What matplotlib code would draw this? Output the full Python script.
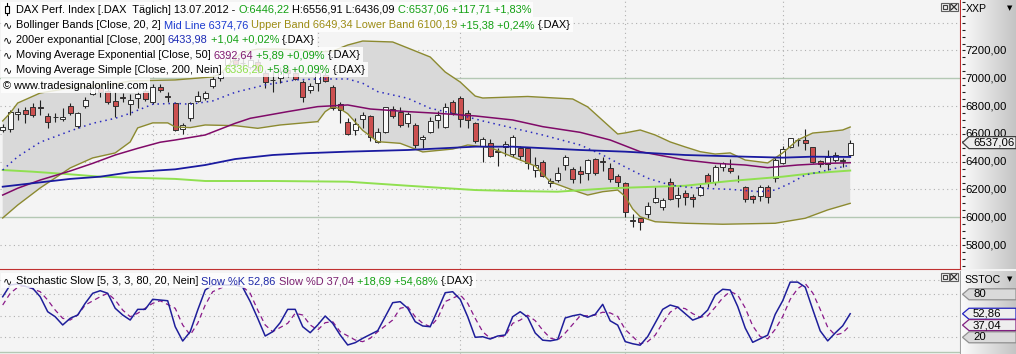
import numpy as np
import matplotlib
matplotlib.use("Agg")
import matplotlib.pyplot as plt
from matplotlib.patches import Rectangle, Polygon
from matplotlib.colors import LinearSegmentedColormap
from matplotlib.transforms import blended_transform_factory

# ---- DAX daily candles ----
opens = [6627, 6635, 6745, 6772, 6796, 6792, 6731, 6720, 6707, 6803,
         6659, 6803, 6885, 6932, 6908, 6836, 6862, 6813, 6860, 6908,
         6828, 6940, 6870, 6825, 6635, 6712, 6839, 6856, 6946, 7000,
         7096, 7130, 7112, 7083, 7120, 7036, 6990, 7000, 7060, 7036,
         6971, 6916, 6964, 7024, 6935, 6813, 6688, 6628, 6705, 6729,
         6544, 6616, 6777, 6760, 6681, 6664, 6561, 6616, 6700, 6652,
         6832, 6856, 6748, 6676, 6513, 6537, 6474, 6508, 6455, 6496,
         6496, 6340, 6400, 6245, 6268, 6376, 6345, 6335, 6316, 6417,
         6402, 6352, 6297, 6249, 5978, 5993, 6022, 6112, 6076, 6253,
         6137, 6177, 6144, 6160, 6304, 6256, 6364, 6352, 6270, 6220,
         6153, 6153, 6220, 6281, 6393, 6504, 6558, 6556, 6504, 6407,
         6383, 6412, 6410, 6446.22]
highs = [6671, 6773, 6784, 6796, 6820, 6844, 6748, 6748, 6784, 6820,
         6760, 6868, 6964, 6950, 6928, 6904, 6892, 6885, 6908, 6928,
         6957, 6957, 6904, 6832, 6676, 6832, 6908, 6912, 7024, 7060,
         7160, 7160, 7150, 7150, 7140, 7060, 7060, 7080, 7090, 7070,
         6988, 6964, 7060, 7045, 6950, 6832, 6712, 6712, 6760, 6736,
         6640, 6796, 6800, 6796, 6760, 6676, 6592, 6724, 6767, 6820,
         6844, 6873, 6772, 6688, 6575, 6561, 6496, 6551, 6592, 6513,
         6508, 6436, 6412, 6280, 6360, 6448, 6360, 6369, 6417, 6424,
         6436, 6393, 6311, 6256, 6024, 5998, 6112, 6220, 6140, 6280,
         6216, 6196, 6168, 6240, 6316, 6376, 6400, 6417, 6304, 6225,
         6160, 6232, 6232, 6424, 6513, 6568, 6568, 6633, 6508, 6412,
         6484, 6472, 6424, 6556.91]
lows = [6613, 6613, 6700, 6676, 6724, 6736, 6640, 6688, 6693, 6736,
        6640, 6784, 6880, 6868, 6813, 6724, 6832, 6736, 6784, 6837,
        6813, 6904, 6832, 6621, 6599, 6693, 6832, 6846, 6928, 6980,
        7080, 7080, 7080, 7070, 7040, 6928, 6904, 6964, 7010, 6988,
        6832, 6894, 6908, 6972, 6772, 6676, 6592, 6592, 6640, 6551,
        6537, 6606, 6712, 6652, 6652, 6496, 6496, 6606, 6640, 6640,
        6736, 6652, 6640, 6532, 6400, 6431, 6369, 6441, 6431, 6412,
        6345, 6290, 6290, 6220, 6256, 6340, 6244, 6244, 6268, 6304,
        6335, 6256, 6220, 6000, 5932, 5909, 5993, 6100, 6052, 6124,
        6076, 6088, 6076, 6152, 6216, 6232, 6330, 6316, 6256, 6112,
        6100, 6120, 6100, 6256, 6384, 6496, 6510, 6484, 6393, 6364,
        6340, 6400, 6364, 6436.09]
closes = [6651, 6760, 6755, 6743, 6736, 6787, 6688, 6722, 6724, 6748,
          6748, 6844, 6940, 6904, 6832, 6803, 6858, 6844, 6885, 6849,
          6940, 6916, 6866, 6628, 6664, 6825, 6873, 6892, 6994, 7045,
          7143, 7100, 7108, 7132, 7060, 6976, 6986, 7050, 7040, 6995,
          6868, 6946, 7036, 6981, 6784, 6772, 6599, 6671, 6736, 6575,
          6616, 6791, 6729, 6664, 6743, 6520, 6580, 6695, 6736, 6791,
          6748, 6705, 6700, 6551, 6561, 6441, 6470, 6527, 6575, 6441,
          6393, 6376, 6297, 6263, 6321, 6431, 6273, 6311, 6412, 6316,
          6398, 6273, 6256, 6040, 5974, 5964, 6083, 6137, 6124, 6133,
          6160, 6144, 6129, 6220, 6244, 6360, 6388, 6333, 6266, 6129,
          6129, 6220, 6144, 6412, 6489, 6568, 6554, 6532, 6400, 6383,
          6436, 6448, 6405, 6537.06]

# ---- indicator lines, read at selected bars ----
upper_i = [0, 1, 2, 5, 9, 15, 17, 23, 28, 29, 30, 31, 32, 34, 37, 40, 42, 44, 46, 48,
           52, 54, 57, 59, 61, 63, 64, 70, 76, 78, 82, 83, 85, 87, 89, 91, 93, 95, 97,
           99, 102, 104, 106, 108, 110, 112, 113]
upper_v = [6693, 6750, 6822, 6894, 6930, 6959, 6981, 6988, 7010, 7031, 7088, 7146, 7189,
           7210, 7210, 7203, 7189, 7196, 7239, 7268, 7261, 7218, 7153, 7045, 6973, 6872,
           6858, 6869, 6851, 6794, 6599, 6607, 6628, 6592, 6542, 6506, 6472, 6455, 6463,
           6412, 6391, 6463, 6556, 6606, 6616, 6628, 6649.34]
lower_i = [0, 2, 5, 9, 12, 15, 17, 18, 20, 22, 23, 25, 27, 31, 34, 37, 42, 43, 44, 45,
           46, 48, 50, 53, 56, 60, 62, 65, 68, 71, 73, 76, 78, 80, 82, 83, 84, 85, 87,
           91, 96, 103, 107, 110, 113]
lower_v = [5995, 6088, 6211, 6355, 6427, 6463, 6542, 6643, 6679, 6679, 6650, 6645, 6664,
           6659, 6640, 6664, 6688, 6760, 6796, 6780, 6745, 6625, 6544, 6532, 6470, 6491,
           6520, 6502, 6434, 6369, 6256, 6196, 6160, 6184, 6196, 6150, 6060, 6004, 5968,
           5957, 5950, 5957, 5993, 6053, 6100.19]
mid_i = [0, 2, 5, 9, 12, 15, 17, 20, 23, 25, 28, 31, 35, 39, 42, 46, 48, 50, 54, 57,
         61, 64, 68, 72, 77, 80, 83, 86, 89, 91, 93, 97, 101, 103, 105, 107, 111, 113]
mid_v = [6340, 6436, 6540, 6621, 6676, 6712, 6748, 6813, 6820, 6813, 6837, 6899, 6952,
         6988, 6995, 6995, 6964, 6904, 6856, 6784, 6736, 6693, 6642, 6592, 6520, 6448,
         6362, 6281, 6232, 6218, 6209, 6201, 6184, 6196, 6245, 6304, 6352, 6374.76]
ema50_i = [0, 2, 5, 9, 12, 15, 18, 21, 23, 27, 31, 33, 38, 42, 46, 49, 54, 58, 63, 68,
           72, 77, 81, 85, 91, 95, 99, 102, 106, 110, 113]
ema50_v = [6160, 6209, 6268, 6333, 6388, 6448, 6496, 6540, 6556, 6592, 6676, 6712, 6760,
           6796, 6808, 6779, 6760, 6748, 6729, 6700, 6652, 6611, 6556, 6472, 6412, 6388,
           6376, 6357, 6376, 6388, 6392.64]
ema200_i = [0, 4, 9, 13, 17, 23, 27, 31, 36, 40, 46, 54, 63, 68, 77, 83, 91, 99, 104, 108, 113]
ema200_v = [6220, 6245, 6276, 6292, 6324, 6345, 6376, 6419, 6448, 6460, 6472, 6484, 6508,
            6508, 6484, 6472, 6448, 6436, 6429, 6436, 6433.98]
sma200_i = [0, 4, 9, 13, 17, 23, 27, 36, 46, 54, 63, 68, 74, 81, 91, 97, 104, 108, 113]
sma200_v = [6340, 6328, 6309, 6292, 6285, 6276, 6261, 6261, 6256, 6227, 6196, 6189, 6184,
            6209, 6227, 6261, 6292, 6317, 6336.20]

# ---- stochastic slow ----
k_i = [0, 1, 2, 3, 4, 5, 6, 7, 8, 9, 10, 11, 12, 13, 14, 15, 16, 17, 18, 19, 20, 21, 22,
       23, 24, 25, 26, 27, 28, 29, 31, 32, 33, 34, 35, 36, 37, 38, 39, 40, 41, 42, 43, 44,
       45, 46, 47, 48, 50, 51, 52, 53, 54, 55, 56, 57, 58, 59, 60, 61, 62, 63, 64, 65, 66,
       67, 68, 69, 70, 71, 72, 73, 74, 75, 76, 77, 78, 79, 80, 81, 82, 83, 84, 85, 86, 87,
       88, 89, 90, 91, 92, 93, 94, 95, 96, 97, 98, 99, 100, 101, 102, 103, 104, 105, 106,
       107, 108, 109, 110, 111, 112, 113]
k_v = [76.6, 93, 94.4, 91, 88.4, 76.6, 55.7, 48.7, 37.2, 46.5, 51.1, 67.4, 81.4, 85, 81.4,
       60.5, 51.1, 44.1, 59, 59, 73, 72, 71, 34.8, 14.8, 27.8, 58, 86, 93, 93, 93, 89.8,
       69.9, 46.5, 21.8, 27.8, 40.4, 59, 59, 34.8, 26.4, 37.2, 49.7, 39.5, 23.2, 9.3, 12.5,
       18.6, 29.2, 48.7, 68.3, 69.7, 60.5, 41.8, 35.8, 34.8, 58, 82.2, 83.6, 73, 48.7, 20,
       20.8, 17.6, 21.8, 23.2, 48.7, 55.7, 48, 26, 16, 15, 17, 47, 50, 52, 48, 52, 66, 43,
       37, 14, 11, 9, 21, 40, 59, 65, 62, 53, 44, 48, 58, 79, 87, 86, 63, 33, 13, 18, 23,
       52, 71, 97, 97, 90, 59, 29, 15, 26, 36, 52.86]
d_i = [0, 1, 2, 3, 5, 6, 7, 8, 9, 10, 11, 13, 14, 15, 16, 17, 18, 19, 20, 21, 23, 24, 25,
       26, 27, 28, 30, 31, 32, 33, 34, 35, 36, 38, 39, 40, 41, 42, 43, 44, 45, 47, 48, 49,
       50, 52, 53, 54, 55, 56, 57, 58, 59, 61, 62, 63, 64, 65, 66, 67, 68, 69, 70, 71, 72,
       73, 74, 75, 76, 77, 78, 79, 80, 81, 82, 83, 84, 85, 86, 87, 88, 89, 90, 91, 92, 93,
       94, 95, 96, 97, 98, 99, 100, 101, 102, 103, 104, 105, 106, 107, 108, 109, 110, 111,
       112, 113]
d_v = [65, 81.4, 89.8, 91.6, 83.6, 72, 58, 46.5, 44.1, 51.1, 65, 76.6, 81.4, 72, 58, 48.7,
       53.5, 60.5, 67.4, 71, 60.5, 37.2, 23.2, 39.5, 65, 83.6, 93, 94.4, 90.6, 81.4, 58,
       37.2, 27.8, 39.5, 53.5, 51.1, 37.2, 30.2, 40.4, 41.8, 27.8, 16.2, 13.9, 18.6, 27.8,
       44.1, 60.5, 62.8, 48.7, 39.5, 34.8, 46.5, 69.9, 79.3, 67.4, 46.5, 27.8, 18.6, 20.8,
       21.8, 39.5, 44, 50.8, 43.2, 30, 19, 16, 26, 38, 50, 50, 51, 55, 54, 49, 31, 21, 11,
       14, 23, 40, 55, 62, 60, 53, 48, 50, 62, 75, 84, 79, 61, 36, 21, 18, 31, 49, 73, 88,
       95, 82, 59, 34, 23, 26, 37.04]

price_grid_dotted = [5800, 6200, 6400, 6600, 6800, 7200, 7400]
price_grid_solid = [6000, 7000]
price_labels = [5800, 6000, 6200, 6400, 6600, 6800, 7000, 7200]
stoch_grid_dotted = [20, 50, 80, 100]
month_bars = [20, 42, 61, 83, 104]

W, H = 1016, 354
MAIN_BOT = 269
LOW_TOP = 271
PLOT_R = 960
PRICE_LIM = (5628, 7563)
STOCH_LIM = (-3.3, 112.5)
XLIM = (-0.36, 127.64)
FONT = ["Liberation Sans", "DejaVu Sans"]
FS = 7.9
BG = "#f4f4f4"
GREEN = "#12a012"

fig = plt.figure(figsize=(W / 100, H / 100), dpi=100)
fig.patch.set_facecolor(BG)

ax = fig.add_axes([0, 1 - MAIN_BOT / H, PLOT_R / W, MAIN_BOT / H])
ax2 = fig.add_axes([0, 0, PLOT_R / W, (H - LOW_TOP) / H])
for a in (ax, ax2):
    a.set_facecolor(BG)
    a.set_xlim(XLIM)
    a.set_xticks([])
    a.set_yticks([])
    for s in a.spines.values():
        s.set_visible(False)
ax.set_ylim(PRICE_LIM)
ax2.set_ylim(STOCH_LIM)
ax.spines["right"].set_visible(True)
ax.spines["bottom"].set_visible(True)
ax.spines["right"].set_color("#c03030")
ax.spines["bottom"].set_color("#c03030")
ax2.spines["right"].set_visible(True)
ax2.spines["right"].set_color("#a0a0a0")

dot = dict(color="#b0b0b0", lw=0.8, ls=(0, (1, 3)), zorder=1)
for v in price_grid_dotted:
    ax.axhline(v, **dot)
for v in price_grid_solid:
    ax.axhline(v, color="#b4c8b4", lw=1, zorder=1)
for v in stoch_grid_dotted:
    ax2.axhline(v, **dot)
ax2.axhline(0, color="#b4c8b4", lw=1, zorder=1)
for b in month_bars:
    ax.axvline(b, **dot)
    ax2.axvline(b, **dot)

# bollinger fill
band = np.column_stack([upper_i + lower_i[::-1], upper_v + lower_v[::-1]])
ax.add_patch(Polygon(band, closed=True, fc="#d9d9d9", ec="none", zorder=2))

# candles
idx = np.arange(len(closes))
o = np.array(opens); h = np.array(highs); l = np.array(lows); c = np.array(closes)
body_lo = np.minimum(o, c)
body_h = np.maximum(np.abs(c - o), 3)
cols = np.where(c >= o, "#fafafa", "#cc5050")
ax.vlines(idx, l, h, color="#202020", lw=0.8, zorder=4)
ax.bar(idx, body_h, bottom=body_lo, width=0.62, color=cols, edgecolor="#303030",
       lw=0.7, zorder=5)

ax.plot(upper_i, upper_v, color="#8c8a30", lw=1, zorder=6)
ax.plot(lower_i, lower_v, color="#8c8a30", lw=1, zorder=6)
ax.plot(mid_i, mid_v, color="#2a2ac0", lw=1.1, ls=(0, (1, 2.6)), zorder=7)
ax.plot(sma200_i, sma200_v, color="#90e050", lw=1.4, zorder=6)
ax.plot(ema50_i, ema50_v, color="#800a68", lw=1.1, zorder=7)
ax.plot(ema200_i, ema200_v, color="#1a1aa0", lw=1.3, zorder=7)

ax2.plot(d_i, d_v, color="#8a1a8a", lw=0.9, ls=(0, (4, 3)), zorder=5)
ax2.plot(k_i, k_v, color="#1e1e9a", lw=1.1, zorder=6)

# right scale areas
grad = LinearSegmentedColormap.from_list("g", ["#fbfbfb", "#c4c4c4"])
axr = fig.add_axes([961 / W, 1 - MAIN_BOT / H, 55 / W, MAIN_BOT / H])
axr2 = fig.add_axes([961 / W, 0, 55 / W, (H - LOW_TOP) / H])
for a, lim in ((axr, PRICE_LIM), (axr2, STOCH_LIM)):
    a.imshow(np.linspace(0, 1, 64)[None, :], cmap=grad, aspect="auto",
             extent=(0, 55, lim[0], lim[1]))
    a.set_xlim(0, 55)
    a.set_ylim(lim)
    a.axis("off")

minor = np.arange(5650, 7551, 50)
axr.hlines(minor, 0.5, 3.5, color="#202020", lw=0.8)
for v in price_labels:
    axr.text(4.5, v, f"{v},00", fontsize=8.2, family=FONT, va="center", ha="left")

tr1 = blended_transform_factory(axr.transData, axr.transAxes)
tr2 = blended_transform_factory(axr2.transData, axr2.transAxes)
axr.text(5, 1 - 9 / MAIN_BOT, "XXP", transform=tr1, fontsize=7.6,
         family=FONT, va="center", ha="left")
axr.text(49, 1 - 8 / MAIN_BOT, "▼", transform=tr1, fontsize=5,
         family=["DejaVu Sans"], va="center", ha="center")
axr2.text(3, 1 - 9 / (H - LOW_TOP), "SSTOC", transform=tr2, fontsize=7.6,
          family=FONT, va="center", ha="left")
axr2.text(49, 1 - 8 / (H - LOW_TOP), "▼", transform=tr2, fontsize=5,
          family=["DejaVu Sans"], va="center", ha="center")


def marker(a, v, half, text, fc, ec):
    pts = [(1.5, v), (8, v + half), (55, v + half), (55, v - half), (8, v - half)]
    a.add_patch(Polygon(pts, closed=True, fc=fc, ec=ec, lw=0.9, zorder=5))
    a.text(12, v, text, fontsize=8.2, family=FONT, va="center", ha="left", zorder=6)


marker(axr, closes[-1], 6 * 7.194, "6537,06", "#ececec", "#404040")
px_low = (STOCH_LIM[1] - STOCH_LIM[0]) / (H - LOW_TOP)
marker(axr2, 80, 5.5 * px_low, "80", "#dadada", "#909090")
marker(axr2, 20, 5.5 * px_low, "20", "#dadada", "#909090")
marker(axr2, k_v[-1], 5.5 * px_low, "52,86", "#eeeeee", "#2020c0")
marker(axr2, d_v[-1], 5.5 * px_low, "37,04", "#eeeeee", "#802080")

# overlay in pixel coordinates for legends and icons
ov = fig.add_axes([0, 0, 1, 1], zorder=10)
ov.set_xlim(0, W)
ov.set_ylim(H, 0)
ov.axis("off")
renderer = fig.canvas.get_renderer()


def text_w(s):
    t = ov.text(0, 0, s, fontsize=FS, family=FONT)
    w = t.get_window_extent(renderer).width
    t.remove()
    return w


SP = text_w("a a") - text_w("aa")


def row(x, y, parts, box_x0=1):
    cur = x
    for s, col in parts:
        n = len(s) - len(s.lstrip(" "))
        cur += n * SP
        s = s.strip(" ")
        t = ov.text(cur, y + 4, s, color=col, fontsize=FS, family=FONT,
                    va="baseline", ha="left", zorder=12)
        cur += t.get_window_extent(renderer).width
    ov.add_patch(Rectangle((box_x0, y - 7.5), cur - box_x0 + 2, 15, fc="white",
                           ec="none", alpha=0.82, zorder=11))


def wave(y):
    ov.text(3, y + 4, "∿", fontsize=8, family=["DejaVu Sans"], va="baseline",
            ha="left", zorder=12)


row(16, 9, [("DAX Perf. Index [.DAX  Täglich] 13.07.2012 -", "black"),
            (" O:6446,22", GREEN), (" H:6556,91 L:6436,09", "black"),
            (" C:6537,06 +117,71 +1,83%", GREEN)])
ov.plot([7, 7], [3, 15], color="black", lw=0.8, zorder=12)
ov.add_patch(Rectangle((5, 5.5), 4, 7, fc="white", ec="black", lw=0.8, zorder=13))

wave(24)
row(16, 24, [("Bollinger Bands [Close, 20, 2]", "black"), (" Mid Line 6374,76", "#1a3ad0"),
             (" Upper Band 6649,34 Lower Band 6100,19", "#9c8c14"),
             (" +15,38 +0,24%", GREEN), (" {.DAX}", "black")])
wave(39)
row(16, 39, [("200er exponantial [Close, 200]", "black"), (" 6433,98", "#1c2ab4"),
             (" +1,04 +0,02%", GREEN), (" {.DAX}", "black")])
wave(54)
row(16, 54, [("Moving Average Exponential [Close, 50]", "black"), (" 6392,64", "#801a70"),
             (" +5,89 +0,09%", GREEN), (" {.DAX}", "black")])
wave(69)
row(16, 69, [("Moving Average Simple [Close, 200, Nein]", "black"), (" 6336,20", "#8ee04a"),
             (" +5,8 +0,09%", GREEN), (" {.DAX}", "black")])
row(3, 85, [("© www.tradesignalonline.com", "black")])

wave(280)
row(16, 280, [("Stochastic Slow [5, 3, 3, 80, 20, Nein]", "black"),
              (" Slow %K 52,86", "#1e28a8"), (" Slow %D 37,04", "#7a2070"),
              (" +18,69 +54,68%", GREEN), (" {.DAX}", "black")])

# pane buttons
for top in (3, 273):
    ov.add_patch(Rectangle((941, top), 8, 8, fc="#f0f0f0", ec="#606060", lw=0.8, zorder=12))
    ov.add_patch(Rectangle((943, top + 2), 4, 4, fc="none", ec="#404040", lw=0.8, zorder=13))
    ov.add_patch(Rectangle((950, top), 8, 8, fc="#f0f0f0", ec="#606060", lw=0.8, zorder=12))
    ov.plot([951.5, 956.5], [top + 1.5, top + 6.5], color="#303030", lw=0.9, zorder=13)
    ov.plot([951.5, 956.5], [top + 6.5, top + 1.5], color="#303030", lw=0.9, zorder=13)

fig.savefig("out.png", dpi=100, facecolor=fig.get_facecolor())
